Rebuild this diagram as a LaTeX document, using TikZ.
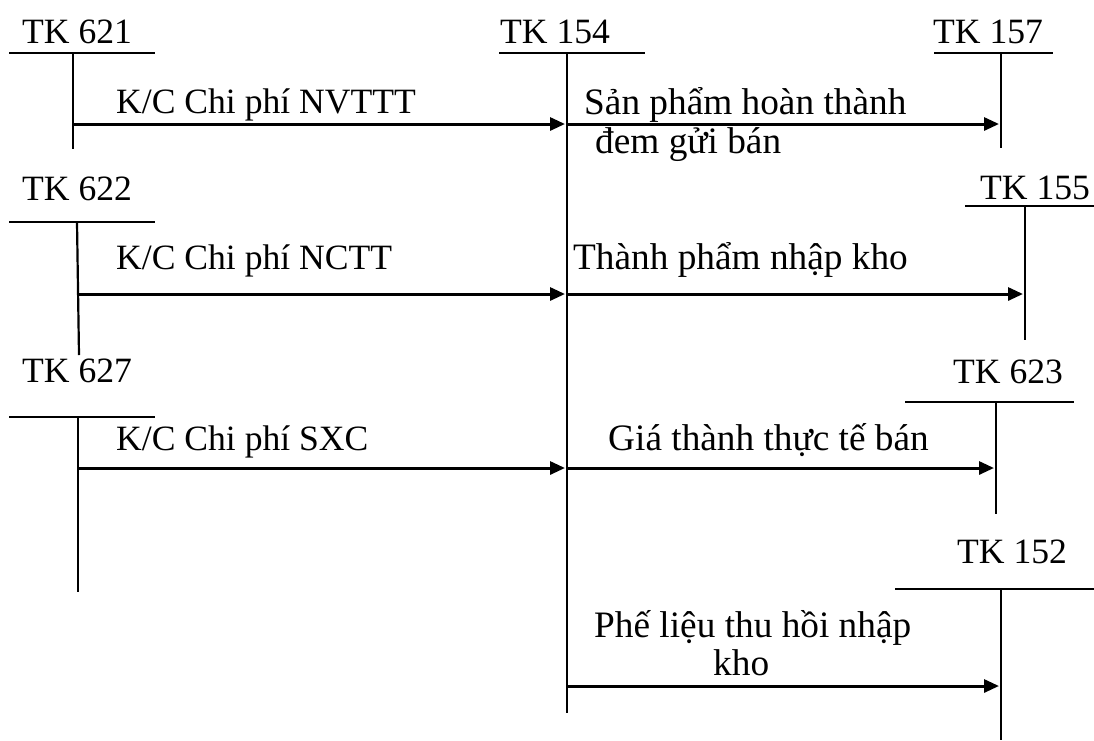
\documentclass[tikz,border=0pt]{standalone}
\usepackage{fontspec}
\setmainfont{Liberation Serif}
\usetikzlibrary{arrows.meta}
\begin{document}
\begin{tikzpicture}[x=1pt,y=-1pt,
  acct/.style={line width=2.2pt},
  flow/.style={line width=3pt,-{Triangle[length=15pt,width=13pt]}},
  lbl/.style={inner sep=0pt,anchor=base west,font=\fontsize{35.6}{36}\selectfont},
  rlbl/.style={lbl,font=\fontsize{37.3}{38}\selectfont}]
\useasboundingbox (0,0) rectangle (1094,740);

% ---- T-accounts: title, bar and stem ----
\node[lbl] (t621) at (22,43) {TK 621};
\draw[acct] (9,53) -- (155,53);
\draw[acct] (73,53) -- (73,149);

\node[lbl] (t154) at (500,43) {TK 154};
\draw[acct] (499,53) -- (645,53);
\draw[acct] (567,53) -- (567,713);

\node[lbl] (t157) at (933,43) {TK 157};
\draw[acct] (934,53) -- (1053,53);
\draw[acct] (1001,53) -- (1001,148);

\node[lbl] (t622) at (22,200) {TK 622};
\draw[acct] (9,222) -- (155,222);
\draw[acct] (77,222) -- (79,355);

\node[lbl] (t155) at (980,199) {TK 155};
\draw[acct] (965,206) -- (1094,206);
\draw[acct] (1025,206) -- (1025,340);

\node[lbl] (t627) at (22,382) {TK 627};
\draw[acct] (9,417) -- (155,417);
\draw[acct] (78,417) -- (78,592);

\node[lbl] (t623) at (953,383) {TK 623};
\draw[acct] (905,402) -- (1074,402);
\draw[acct] (996,402) -- (996,514);

\node[lbl] (t152) at (957,563) {TK 152};
\draw[acct] (895,589) -- (1094,589);
\draw[acct] (1001,589) -- (1001,740);

% ---- connection points on the stems ----
\coordinate (s621) at (73,124);
\coordinate (i154a) at (565,124);
\coordinate (o154a) at (567,124);
\coordinate (e157) at (999,124);

\coordinate (s622) at (78,294);
\coordinate (i154b) at (565,294);
\coordinate (o154b) at (567,294);
\coordinate (e155) at (1023,294);

\coordinate (s627) at (78,468);
\coordinate (i154c) at (565,468);
\coordinate (o154c) at (567,468);
\coordinate (e623) at (994,468);

\coordinate (o154d) at (567,686);
\coordinate (e152) at (999,686);

% ---- flows ----
\draw[flow] (s621) -- (i154a);
\draw[flow] (o154a) -- (e157);
\draw[flow] (s622) -- (i154b);
\draw[flow] (o154b) -- (e155);
\draw[flow] (s627) -- (i154c);
\draw[flow] (o154c) -- (e623);
\draw[flow] (o154d) -- (e152);

% ---- flow labels ----
\node[lbl] (l1) at (116,113) {K/C Chi phí NVTTT};
\node[rlbl] (l2) at (584,114) {Sản phẩm hoàn thành};
\node[rlbl] (l2b) at (595,153) {đem gửi bán};
\node[lbl] (l3) at (116,269) {K/C Chi phí NCTT};
\node[rlbl] (l4) at (573,269) {Thành phẩm nhập kho};
\node[lbl] (l5) at (116,450) {K/C Chi phí SXC};
\node[rlbl] (l6) at (608,450) {Giá thành thực tế bán};
\node[rlbl] (l7) at (594,637) {Phế liệu thu hồi nhập};
\node[rlbl] (l7b) at (713,675) {kho};
\end{tikzpicture}
\end{document}
